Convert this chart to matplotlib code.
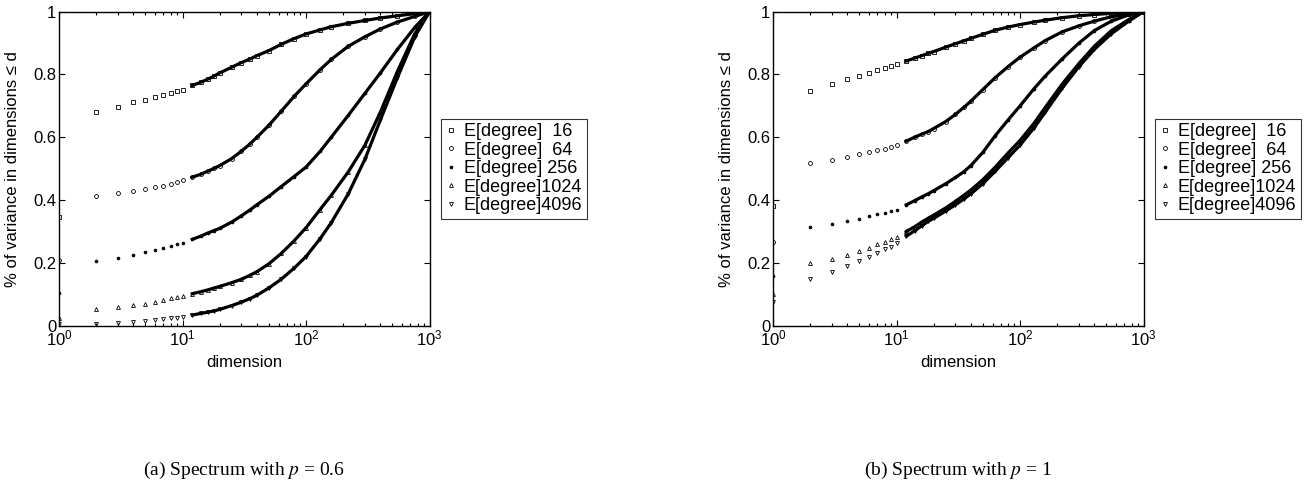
import matplotlib
matplotlib.use('Agg')
import matplotlib.pyplot as plt
import numpy as np

plt.rcParams['font.family'] = ['Liberation Sans', 'DejaVu Sans']
plt.rcParams['mathtext.fontset'] = 'custom'
plt.rcParams['mathtext.rm'] = 'Liberation Sans'
plt.rcParams['mathtext.it'] = 'Liberation Sans:italic'

dims = [1, 2, 3, 4, 5, 6, 7, 8, 9, 10, 12, 14, 16, 18, 20, 25, 30, 35, 40, 50,
        63, 80, 100, 130, 160, 220, 300, 400, 550, 760, 1000]

labels = ['E[degree]  16', 'E[degree]  64', 'E[degree] 256', 'E[degree]1024', 'E[degree]4096']

# (a) p = 0.6
a_16 = [0.347, 0.680, 0.697, 0.711, 0.720, 0.729, 0.736, 0.741, 0.747, 0.752, 0.765, 0.775, 0.785,
        0.795, 0.805, 0.823, 0.838, 0.849, 0.860, 0.876, 0.896, 0.914, 0.929, 0.942, 0.952, 0.963,
        0.972, 0.980, 0.987, 0.994, 1.0]
a_64 = [0.210, 0.412, 0.422, 0.429, 0.435, 0.441, 0.446, 0.451, 0.458, 0.463, 0.473, 0.482, 0.492,
        0.501, 0.510, 0.532, 0.556, 0.578, 0.600, 0.638, 0.683, 0.730, 0.770, 0.815, 0.848, 0.890,
        0.920, 0.945, 0.967, 0.985, 1.0]
a_256 = [0.105, 0.207, 0.216, 0.224, 0.234, 0.241, 0.247, 0.254, 0.259, 0.264, 0.275, 0.285, 0.295,
         0.303, 0.310, 0.330, 0.350, 0.368, 0.385, 0.412, 0.443, 0.475, 0.505, 0.555, 0.600, 0.670,
         0.740, 0.805, 0.880, 0.950, 1.0]
a_1024 = [0.025, 0.052, 0.059, 0.065, 0.069, 0.074, 0.082, 0.087, 0.091, 0.095, 0.102, 0.108, 0.114,
          0.120, 0.125, 0.137, 0.148, 0.160, 0.172, 0.197, 0.230, 0.270, 0.312, 0.370, 0.415, 0.490,
          0.575, 0.680, 0.810, 0.930, 1.0]
a_4096 = [0.005, 0.006, 0.009, 0.012, 0.014, 0.017, 0.020, 0.024, 0.026, 0.029, 0.034, 0.039, 0.043,
          0.047, 0.052, 0.064, 0.075, 0.086, 0.097, 0.120, 0.148, 0.183, 0.220, 0.277, 0.328, 0.420,
          0.530, 0.655, 0.790, 0.920, 1.0]

# (b) p = 1
b_16 = [0.381, 0.748, 0.770, 0.786, 0.795, 0.806, 0.813, 0.820, 0.827, 0.833, 0.843, 0.852, 0.860,
        0.867, 0.873, 0.887, 0.898, 0.907, 0.915, 0.928, 0.941, 0.951, 0.959, 0.967, 0.973, 0.981,
        0.987, 0.991, 0.995, 0.998, 1.0]
b_64 = [0.266, 0.517, 0.528, 0.538, 0.546, 0.552, 0.560, 0.564, 0.569, 0.575, 0.588, 0.600, 0.610,
        0.618, 0.628, 0.650, 0.673, 0.695, 0.715, 0.752, 0.790, 0.825, 0.855, 0.885, 0.908, 0.936,
        0.955, 0.970, 0.984, 0.993, 1.0]
b_256 = [0.159, 0.314, 0.324, 0.332, 0.341, 0.349, 0.355, 0.360, 0.364, 0.369, 0.385, 0.398, 0.410,
         0.420, 0.430, 0.452, 0.472, 0.490, 0.510, 0.552, 0.605, 0.655, 0.700, 0.755, 0.795, 0.850,
         0.900, 0.940, 0.970, 0.990, 1.0]
b_1024 = [0.100, 0.199, 0.211, 0.224, 0.237, 0.247, 0.259, 0.266, 0.275, 0.283, 0.300, 0.315, 0.330,
          0.342, 0.352, 0.375, 0.396, 0.415, 0.432, 0.465, 0.505, 0.550, 0.590, 0.645, 0.695, 0.770,
          0.835, 0.890, 0.940, 0.975, 1.0]
b_4096 = [0.076, 0.149, 0.172, 0.190, 0.206, 0.220, 0.233, 0.243, 0.252, 0.262, 0.285, 0.302, 0.318,
          0.332, 0.342, 0.365, 0.385, 0.403, 0.420, 0.452, 0.492, 0.535, 0.575, 0.630, 0.680, 0.757,
          0.825, 0.880, 0.930, 0.970, 1.0]

panels = [
    ([a_16, a_64, a_256, a_1024, a_4096], r'(a) Spectrum with $p$ = 0.6', 59),
    ([b_16, b_64, b_256, b_1024, b_4096], r'(b) Spectrum with $p$ = 1', 773),
]
markers = ['s', 'o', 'o', '^', 'v']
faces = ['none', 'none', 'k', 'none', 'none']
sizes = [2.6, 2.8, 2.0, 2.8, 2.8]

W, H = 1316, 482
fig = plt.figure(figsize=(W / 100, H / 100), dpi=100)

d = np.array(dims)
dense = d >= 12

for series, caption, x0 in panels:
    ax = fig.add_axes([x0 / W, (H - 325.7) / H, 370.5 / W, 314 / H])
    for vals, m, fc, ms, lab in zip(series, markers, faces, sizes, labels):
        v = np.array(vals)
        # markers merge into a solid band at higher dimensions
        ax.plot(d[dense], v[dense], '-', color='k', lw=2.3, solid_joinstyle='round')
        ax.plot(d, v, linestyle='none', marker=m, mfc=fc, mec='k', ms=ms, mew=0.6, label=lab)

    ax.set_xscale('log')
    ax.set_xlim(1, 1000)
    ax.set_ylim(0, 1)
    ax.set_yticks([0, 0.2, 0.4, 0.6, 0.8, 1])
    ax.set_yticklabels(['0', '0.2', '0.4', '0.6', '0.8', '1'])
    ax.tick_params(which='both', direction='in', top=True, right=True, labelsize=12, width=0.8)
    ax.tick_params(which='major', length=4, pad=2)
    ax.tick_params(which='minor', length=2)
    for s in ax.spines.values():
        s.set_linewidth(1.0)

    ax.set_xlabel('dimension', fontsize=12)
    ax.set_ylabel('% of variance in dimensions \u2264 d', fontsize=12)
    ax.yaxis.set_label_coords(-0.105, 0.5)
    ax.xaxis.set_label_coords(0.5, -0.092)

    handles, labs = ax.get_legend_handles_labels()
    leg = ax.legend(handles, labs, loc='center left', bbox_to_anchor=(1.032, 0.5),
                    fontsize=13, frameon=True, fancybox=False, borderaxespad=0,
                    handlelength=0.6, handletextpad=0.4, borderpad=0.25, labelspacing=0.08)
    leg.get_frame().set_edgecolor('k')
    leg.get_frame().set_linewidth(0.8)

    fig.text((x0 + 185.5) / W, (H - 470) / H, caption, ha='center', va='center',
             fontsize=14, family='Liberation Serif', math_fontfamily='stix')

fig.savefig('out.png', dpi=100)
